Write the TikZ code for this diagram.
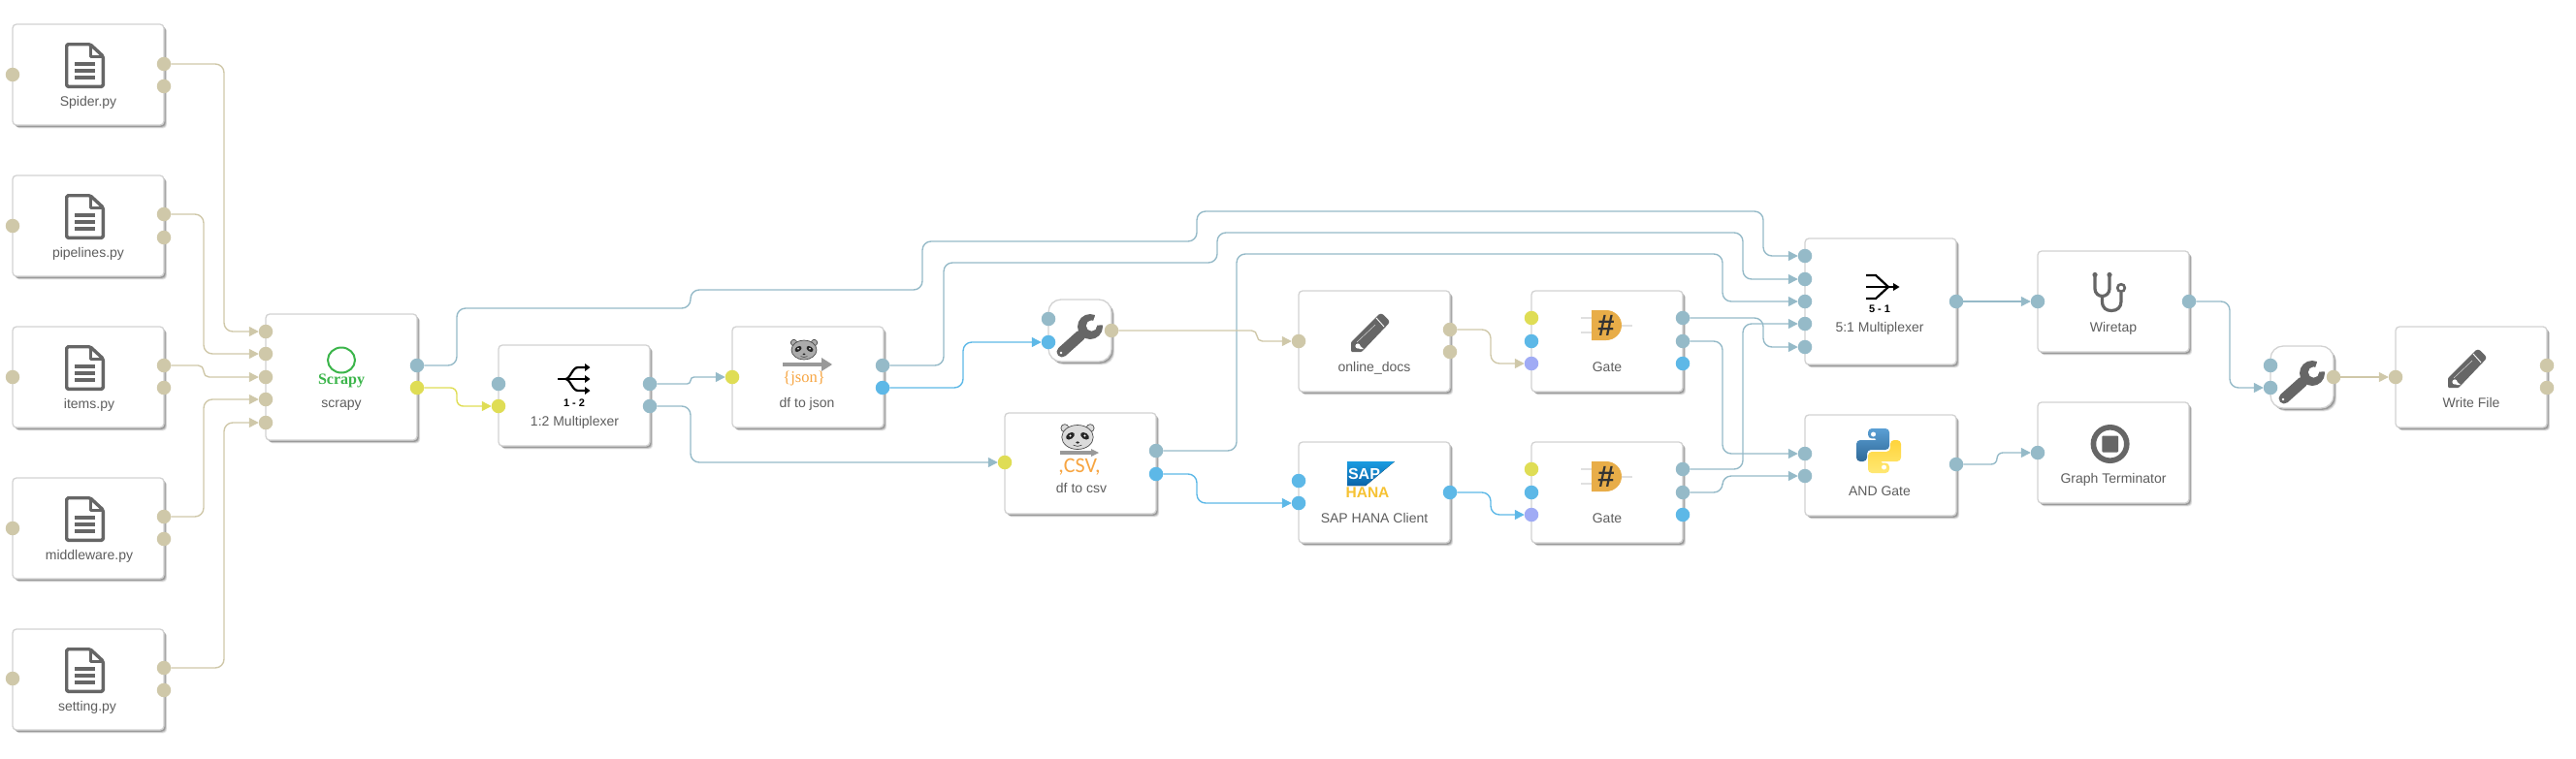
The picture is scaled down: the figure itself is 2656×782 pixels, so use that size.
\documentclass[tikz,border=0pt]{standalone}
\usepackage{fontspec}
\setmainfont{Liberation Sans}
\newfontfamily\serifo{Liberation Serif}
\newfontfamily\carlito{Carlito}
\usetikzlibrary{arrows.meta,shadows,calc}
\definecolor{ctan}{HTML}{CFC8A9}
\definecolor{cgb}{HTML}{95BAC8}
\definecolor{cyel}{HTML}{DFDD55}
\definecolor{cblu}{HTML}{5DB8E7}
\definecolor{cper}{HTML}{A0ABF5}
\definecolor{ctxt}{HTML}{5E5E5E}
\definecolor{cico}{HTML}{666666}
\definecolor{cborder}{HTML}{D2D2D2}
\definecolor{corange}{HTML}{F7A541}
\definecolor{cgate}{HTML}{E8AD48}
\definecolor{cgreen}{HTML}{3BB54A}
\definecolor{HanaTop}{HTML}{1A9BE0}
\definecolor{HanaBot}{HTML}{0B63A8}
\definecolor{HanaYel}{HTML}{F6C233}
\definecolor{PyBlueA}{HTML}{5A9FD4}
\definecolor{PyBlueB}{HTML}{306998}
\definecolor{PyYelA}{HTML}{FFE873}
\definecolor{PyYelB}{HTML}{FFD43B}
\tikzset{
  softshadow/.style={
    drop shadow={shadow xshift=3.2pt,shadow yshift=-3.4pt,fill=black,opacity=.10},
    drop shadow={shadow xshift=2.4pt,shadow yshift=-2.6pt,fill=black,opacity=.16},
    drop shadow={shadow xshift=1.6pt,shadow yshift=-1.8pt,fill=black,opacity=.20}},
  opbox/.style={draw=cborder,fill=white,line width=1.3pt,rounded corners=4pt,anchor=north west,
    minimum width=156pt,minimum height=#1,inner sep=0pt,outer sep=0pt,softshadow},
  opbox/.default=104pt,
  smallbox/.style={draw=cborder,fill=white,line width=1.3pt,rounded corners=13pt,anchor=north west,
    minimum width=65pt,minimum height=64pt,inner sep=0pt,outer sep=0pt,softshadow},
  port/.style={circle,fill=#1,draw=none,minimum size=14.5pt,inner sep=0pt,outer sep=0pt},
  lbl/.style={anchor=base,inner sep=0pt,outer sep=0pt,text=ctxt,font=\fontsize{14}{16}\selectfont},
  wire/.style={draw=#1,line width=1.4pt,rounded corners=9pt,
    -{Triangle[length=10pt,width=10pt,fill=#1]}},
  pics/picdoc/.style={code={
    \draw[cico,line width=3.4pt,rounded corners=1.5pt,line join=round]
      (1.7,1.7) -- (26,1.7) -- (39.3,14) -- (39.3,45.3) -- (1.7,45.3) -- cycle;
    \draw[cico,line width=3pt,line join=round] (26,1.7) -- (26,14) -- (39.3,14);
    \foreach \yy in {22,29,36} \draw[cico,line width=3.2pt] (10,\yy) -- (31,\yy);
  }},
  pics/picwrench/.style={code={
    \draw[cico,line width=11pt,line cap=round] (14,54) -- (33,37);
    \fill[cico] (43,28) circle (13);
    \fill[white] (44.5,27) circle (5.6);
    \fill[white] (44.5,27) -- (50,11) -- (62,16) -- (60,26) -- cycle;
    \fill[white] (13,55) circle (1.4);
  }},
  pics/picpencil/.style={code={
    \fill[cico,rounded corners=1pt] (-20,10) -- (8,-18) [rounded corners=3pt] -- (11,-20.5) -- (20.5,-11) [rounded corners=1pt] -- (-9,20) -- (-20,20) -- cycle;
    \draw[white,line width=.9pt] (6,-15) -- (14,-6);
    \draw[white!75!cico,line width=.5pt] (-14,10) -- (5,-8);
    \fill[white] (-13,14) circle (2.6);
    \fill[white] (-11.5,17) -- (-7,17) -- (-13,12) -- cycle;
  }},
  pics/picgate/.style={code={
    \draw[black!12,line width=2.6pt] (-11,8) -- (0,8) (-11,23) -- (0,23) (31,16) -- (42,16);
    \fill[cgate] (0,0) -- (15,0) arc[start angle=-90,end angle=90,x radius=16,y radius=15.5] -- (0,31) -- cycle;
  }},
  pics/picpanda/.style={code={
    \foreach \sx in {-1,1}
      \filldraw[fill=#1,draw=black!70,line width=.7pt] (\sx*10.5,-7.5) circle (3.2);
    \filldraw[fill=#1,draw=black!70,line width=.7pt] (0,0) ellipse (13 and 10);
    \foreach \sx in {-1,1} {
      \fill[black!85,rotate around={\sx*(-35):(\sx*6,-1)}] (\sx*6,-1) ellipse (3.9 and 2.5);
      \fill[white] (\sx*6,-1.2) circle (.9);
    }
    \draw[black!70,line width=.7pt] (-3.5,6.6) .. controls (-1,7.8) and (1,7.8) .. (3.5,6.6);
    \fill[black!85] (0,4.4) ellipse (1.5 and 1);
  }},
  pics/picpy/.style={code={
    \path[draw=none,rounded corners=4pt,#1]
      (-11,-23) -- (11,-23) -- (11,-1) -- (-12,-1) -- (-12,11) -- (-23,11) -- (-23,-11) -- (0,-11) -- (0,-12.6) -- (-11,-12.6) -- cycle;
  }},
}
\newcommand\chwire[5][9pt]{\draw[wire=#2,rounded corners=#1] (#3.east) -- (#4 |- #3) -- (#4 |- #5) -- (#5.west);}
\begin{document}
\begin{tikzpicture}[x=1pt,y=-1pt]
\path[use as bounding box] (0,0) rectangle (2656,782);
\foreach \v in {210,231,471,712,951,973,993,1234,1255,1275,1296,1537,1776,1797,1818,2059,2299}
  \coordinate (c\v) at (\v,0);
\foreach \v in {218,240,249,262,271,299,318}
  \coordinate (r\v) at (0,\v);

% ---------- boxes ----------
\node[opbox] (spider) at (13,25) {};
\node[opbox] (pipelines) at (13,181) {};
\node[opbox] (items) at (13,337) {};
\node[opbox] (middleware) at (13,493) {};
\node[opbox] (setting) at (13,649) {};
\node[opbox=130pt] (scrapy) at (274,324) {};
\node[opbox] (muxa) at (514,356) {};
\node[opbox] (dfjson) at (755,337) {};
\node[smallbox] (wrencha) at (1081,309) {};
\node[opbox] (dfcsv) at (1036,426) {};
\node[opbox] (docs) at (1339,300) {};
\node[opbox] (hana) at (1339,456) {};
\node[opbox] (gatea) at (1579,300) {};
\node[opbox] (gateb) at (1579,456) {};
\node[opbox=130pt] (muxb) at (1861,246) {};
\node[opbox] (andg) at (1861,428) {};
\node[opbox] (wiretap) at (2101,259) {};
\node[opbox] (term) at (2101,415) {};
\node[smallbox] (wrenchb) at (2341,357) {};
\node[opbox] (wfile) at (2470,337) {};

% ---------- icons ----------
\foreach \yy in {44,200,356,512,668} \pic at (67,\yy) {picdoc};

\draw[cgreen,line width=2pt] (352,371.5) ellipse (14 and 13);
\node[anchor=base,inner sep=0pt,text=cgreen,font=\serifo\bfseries\fontsize{16}{18}\selectfont] (tscrapy) at (352,396) {Scrapy};

\begin{scope}[shift={(591,391)}]
  \draw[black,line width=2.2pt] (-16,0) -- (13,0);
  \draw[black,line width=2.2pt] (-8,0) .. controls (-3,0) and (-1,-12) .. (5,-12) -- (13,-12);
  \draw[black,line width=2.2pt] (-8,0) .. controls (-3,0) and (-1,12) .. (5,12) -- (13,12);
  \foreach \yy in {-12,0,12} \fill[black] (12,\yy-4) -- (17.5,\yy) -- (12,\yy+4) -- cycle;
\end{scope}
\node[anchor=base,inner sep=0pt,font=\bfseries\fontsize{11}{12}\selectfont] (tmuxa) at (592,419) {1 - 2};

\pic at (829,361) {picpanda={black!33}};
\draw[black!40,line width=3.4pt] (807,376) -- (848,376);
\fill[black!40] (847,369) -- (858,376) -- (847,383) -- cycle;
\node[anchor=base,inner sep=0pt,text=corange,font=\serifo\fontsize{16.5}{18}\selectfont] (tjson) at (829,394) {\{json\}};

\pic[scale=1.25] at (1111,451) {picpanda={black!14}};
\draw[black!40,line width=4pt] (1093,467) -- (1126,467);
\fill[black!40] (1125,463) -- (1133,467) -- (1125,471) -- cycle;
\node[anchor=base,inner sep=0pt,text=corange,font=\carlito\fontsize{22}{24}\selectfont] (tcsv) at (1113,487) {,CSV,};

\pic at (1081,309) {picwrench};
\pic at (2341,357) {picwrench};
\pic at (1413,343) {picpencil};
\pic at (2544,380) {picpencil};

\fill[top color=HanaTop,bottom color=HanaBot] (1389,476) -- (1438,476) -- (1408,501) -- (1389,501) -- cycle;
\node[anchor=center,inner sep=0pt,text=white,font=\bfseries\fontsize{16}{18}\selectfont] (tsap) at (1406.5,489) {SAP};
\node[anchor=base,inner sep=0pt,text=HanaYel,font=\bfseries\fontsize{15.5}{16}\selectfont] (thana) at (1410,513.5) {HANA};

\pic at (1641,320) {picgate};
\pic at (1641,476) {picgate};
\node[anchor=center,inner sep=0pt,text=black!80,font=\bfseries\fontsize{31}{32}\selectfont] (ha) at (1656,336) {\#};
\node[anchor=center,inner sep=0pt,text=black!80,font=\bfseries\fontsize{31}{32}\selectfont] (hb) at (1656,492) {\#};

\begin{scope}[shift={(1941,296)}]
  \draw[black,line width=2.2pt,line join=miter] (-17,-12) -- (-7,-12) -- (6,0) -- (-7,12) -- (-17,12);
  \draw[black,line width=2.2pt] (-17,0) -- (13,0);
  \fill[black] (11,-4) -- (17.5,0) -- (11,4) -- cycle;
\end{scope}
\node[anchor=base,inner sep=0pt,font=\bfseries\fontsize{11}{12}\selectfont] (tmuxb) at (1938,322) {5 - 1};

\pic at (1937,465) {picpy={top color=PyBlueA,bottom color=PyBlueB}};
\pic[rotate=180] at (1937,465) {picpy={top color=PyYelB,bottom color=PyYelA}};
\fill[white] (1931.5,448) circle (2.5);
\fill[white] (1942.5,482) circle (2.5);

\begin{scope}[cico,line width=3.2pt,line cap=round]
  \draw (2160,284.5) -- (2160,298) arc[start angle=180,end angle=0,radius=7.5] -- (2175,284.5);
  \draw (2167.5,305.5) -- (2167.5,311) .. controls (2167.5,318) and (2172,320.5) .. (2177,320.5) .. controls (2183,320.5) and (2187,317) .. (2187,311) -- (2187,302);
  \fill (2160,283.5) circle (2.6) (2175,283.5) circle (2.6);
  \draw[line width=2.6pt] (2187,297) circle (3.8);
\end{scope}

\draw[cico,line width=5.6pt] (2175.6,458) circle (17.2);
\fill[cico,rounded corners=1pt] (2167.3,449.5) rectangle (2184,466.5);

% ---------- labels ----------
\node[lbl] (lsp) at (91,109) {Spider.py};
\node[lbl] (lpi) at (91,265) {pipelines.py};
\node[lbl] (lit) at (92,421) {items.py};
\node[lbl] (lmi) at (92,577) {middleware.py};
\node[lbl] (lse) at (90,733) {setting.py};
\node[lbl] (lsc) at (352,420) {scrapy};
\node[lbl] (lma) at (592.5,439) {1:2 Multiplexer};
\node[lbl] (ldj) at (832,420) {df to json};
\node[lbl] (ldc) at (1115,508) {df to csv};
\node[lbl] (ldo) at (1417,383) {online\_docs};
\node[lbl] (lha) at (1417,539) {SAP HANA Client};
\node[lbl] (lga) at (1657,383) {Gate};
\node[lbl] (lgb) at (1657,539) {Gate};
\node[lbl] (lmb) at (1938,342) {5:1 Multiplexer};
\node[lbl] (lan) at (1938,511) {AND Gate};
\node[lbl] (lwt) at (2179,342) {Wiretap};
\node[lbl] (lte) at (2179,498) {Graph Terminator};
\node[lbl] (lwf) at (2548,420) {Write File};

% ---------- ports ----------
\node[port=ctan] (spi) at (13,77) {};   \node[port=ctan] (spa) at (169,66) {};  \node[port=ctan] (spb) at (169,89) {};
\node[port=ctan] (pii) at (13,233) {};  \node[port=ctan] (pia) at (169,221) {}; \node[port=ctan] (pib) at (169,245) {};
\node[port=ctan] (iti) at (13,389) {};  \node[port=ctan] (ita) at (169,377) {}; \node[port=ctan] (itb) at (169,400) {};
\node[port=ctan] (mii) at (13,545) {};  \node[port=ctan] (mia) at (169,533) {}; \node[port=ctan] (mib) at (169,556) {};
\node[port=ctan] (sei) at (13,700) {};  \node[port=ctan] (sea) at (169,689) {}; \node[port=ctan] (seb) at (169,712) {};
\node[port=ctan] (sca) at (274,342) {}; \node[port=ctan] (scb) at (274,365) {}; \node[port=ctan] (scc) at (274,389) {};
\node[port=ctan] (scd) at (274,412) {}; \node[port=ctan] (sce) at (274,436) {};
\node[port=cgb] (sco) at (430,377) {};  \node[port=cyel] (scy) at (430,400) {};
\node[port=cgb] (mai) at (514,396) {};  \node[port=cyel] (may) at (514,419) {};
\node[port=cgb] (maa) at (670,396) {};  \node[port=cgb] (mab) at (670,419) {};
\node[port=cyel] (dji) at (755,389) {}; \node[port=cgb] (dja) at (910,377) {};  \node[port=cblu] (djb) at (910,400) {};
\node[port=cgb] (waa) at (1081,329) {}; \node[port=cblu] (wab) at (1081,353) {}; \node[port=ctan] (wao) at (1146,341) {};
\node[port=cyel] (dci) at (1036,477) {};\node[port=cgb] (dca) at (1192,465) {}; \node[port=cblu] (dcb) at (1192,489) {};
\node[port=ctan] (doi) at (1339,352) {};\node[port=ctan] (doa) at (1495,340) {};\node[port=ctan] (dob) at (1495,363) {};
\node[port=cblu] (haa) at (1339,496) {};\node[port=cblu] (hab) at (1339,519) {};\node[port=cblu] (hao) at (1495,508) {};
\node[port=cyel] (gaa) at (1579,328) {};\node[port=cblu] (gab) at (1579,352) {};\node[port=cper] (gac) at (1579,375) {};
\node[port=cgb] (gax) at (1735,328) {}; \node[port=cgb] (gay) at (1735,352) {}; \node[port=cblu] (gaz) at (1735,375) {};
\node[port=cyel] (gba) at (1579,484) {};\node[port=cblu] (gbb) at (1579,508) {};\node[port=cper] (gbc) at (1579,531) {};
\node[port=cgb] (gbx) at (1735,484) {}; \node[port=cgb] (gby) at (1735,508) {}; \node[port=cblu] (gbz) at (1735,531) {};
\node[port=cgb] (mba) at (1861,264) {}; \node[port=cgb] (mbb) at (1861,288) {}; \node[port=cgb] (mbc) at (1861,311) {};
\node[port=cgb] (mbd) at (1861,334) {}; \node[port=cgb] (mbe) at (1861,358) {}; \node[port=cgb] (mbo) at (2017,311) {};
\node[port=cgb] (ana) at (1861,468) {}; \node[port=cgb] (anb) at (1861,491) {}; \node[port=cgb] (ano) at (2017,479) {};
\node[port=cgb] (wti) at (2101,311) {}; \node[port=cgb] (wto) at (2257,311) {};
\node[port=cgb] (tei) at (2101,467) {};
\node[port=cgb] (wba) at (2341,377) {}; \node[port=cgb] (wbb) at (2341,400) {}; \node[port=ctan] (wbo) at (2406,389) {};
\node[port=ctan] (wfi) at (2470,389) {};\node[port=ctan] (wfa) at (2626,377) {};\node[port=ctan] (wfb) at (2626,400) {};

% ---------- connectors ----------
\chwire{ctan}{spa}{c231}{sca}
\chwire{ctan}{pia}{c210}{scb}
\chwire[5.5pt]{ctan}{ita}{c210}{scc}
\chwire{ctan}{mia}{c210}{scd}
\chwire{ctan}{sea}{c231}{sce}
\chwire[6.5pt]{cyel}{scy}{c471}{may}
\draw[wire=cgb] (sco.east) -- (c471 |- sco) -- (c471 |- r318) -- (c712 |- r318) -- (c712 |- r299) -- (c951 |- r299) -- (c951 |- r249) -- (c1234 |- r249) -- (c1234 |- r218) -- (c1818 |- r218) -- (c1818 |- mba) -- (mba.west);
\draw[wire=cgb] (dja.east) -- (c973 |- dja) -- (c973 |- r271) -- (c1255 |- r271) -- (c1255 |- r240) -- (c1797 |- r240) -- (c1797 |- mbb) -- (mbb.west);
\draw[wire=cgb] (dca.east) -- (c1275 |- dca) -- (c1275 |- r262) -- (c1776 |- r262) -- (c1776 |- mbc) -- (mbc.west);
\chwire{cblu}{djb}{c993}{wab}
\chwire[3.5pt]{cgb}{maa}{c712}{dji}
\chwire{cgb}{mab}{c712}{dci}
\chwire[5.5pt]{ctan}{wao}{c1296}{doi}
\chwire{ctan}{doa}{c1537}{gac}
\chwire{cblu}{dcb}{c1234}{hab}
\chwire{cblu}{hao}{c1537}{gbc}
\chwire{cgb}{gax}{c1818}{mbe}
\chwire{cgb}{gay}{c1776}{ana}
\chwire{cgb}{gbx}{c1797}{mbd}
\chwire{cgb}{gby}{c1776}{anb}
\draw[wire=cgb] (mbo.east) -- (wti.west);
\chwire[6pt]{cgb}{ano}{c2059}{tei}
\chwire{cgb}{wto}{c2299}{wbb}
\draw[wire=ctan] (wbo.east) -- (wfi.west);
\end{tikzpicture}
\end{document}
